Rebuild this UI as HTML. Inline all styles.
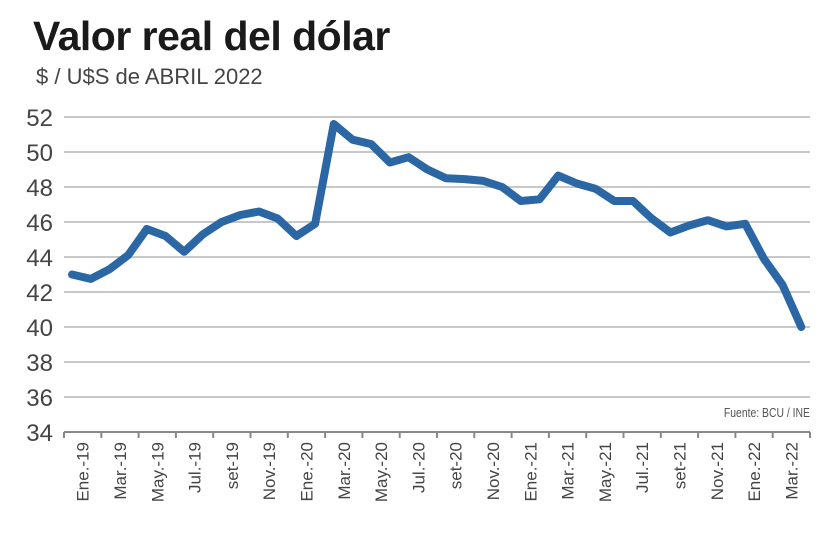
<!DOCTYPE html>
<html><head><meta charset="utf-8"><style>
body{margin:0;background:#fff;width:840px;height:546px;overflow:hidden}
</style></head><body>
<svg width="840" height="546" xmlns="http://www.w3.org/2000/svg" font-family="Liberation Sans, sans-serif">
<text x="33" y="50" font-size="41" font-weight="bold" fill="#1a1a1a" letter-spacing="-0.5">Valor real del dólar</text>
<text x="36" y="84" font-size="22" fill="#444">$ / U$S de ABRIL 2022</text>
<g stroke="#c8c8c8" stroke-width="2">
<line x1="64" x2="810" y1="117" y2="117"/><line x1="64" x2="810" y1="152" y2="152"/>
<line x1="64" x2="810" y1="187" y2="187"/><line x1="64" x2="810" y1="222" y2="222"/>
<line x1="64" x2="810" y1="257" y2="257"/><line x1="64" x2="810" y1="292" y2="292"/>
<line x1="64" x2="810" y1="327" y2="327"/><line x1="64" x2="810" y1="362" y2="362"/>
<line x1="64" x2="810" y1="397" y2="397"/>
</g>
<line x1="64" x2="810" y1="432" y2="432" stroke="#888" stroke-width="2"/>
<g fill="#444" font-size="24" text-anchor="end">
<text x="53" y="126">52</text><text x="53" y="161">50</text><text x="53" y="196">48</text>
<text x="53" y="231">46</text><text x="53" y="266">44</text><text x="53" y="301">42</text>
<text x="53" y="336">40</text><text x="53" y="371">38</text><text x="53" y="406">36</text>
<text x="53" y="441">34</text>
</g>
<text x="810" y="417" font-size="13" fill="#555" text-anchor="end" transform="translate(810 0) scale(0.8 1) translate(-810 0)">Fuente: BCU / INE</text>
<g id="ticks" stroke="#888" stroke-width="2"></g>
<g id="xl" fill="#444" font-size="17" text-anchor="end"></g>
<polyline id="ln" fill="none" stroke="#2b67a4" stroke-width="8" stroke-linejoin="round" stroke-linecap="round"/>
</svg>
<script>
var v=[43.0,42.75,43.3,44.1,45.6,45.2,44.3,45.3,46.0,46.4,46.6,46.2,45.2,45.9,51.6,50.7,50.45,49.4,49.7,49.0,48.5,48.45,48.35,48.0,47.2,47.3,48.65,48.2,47.9,47.2,47.2,46.2,45.4,45.8,46.1,45.75,45.9,43.9,42.4,40.0];
var p=v.map(function(d,i){return (72+i*18.7).toFixed(1)+','+(117+(52-d)*17.5).toFixed(1)}).join(' ');
document.getElementById('ln').setAttribute('points',p);
var ns='http://www.w3.org/2000/svg',t=document.getElementById('ticks'),xl=document.getElementById('xl');
for(var k=0;k<=20;k++){var x=64+k*37.3;var l=document.createElementNS(ns,'line');l.setAttribute('x1',x);l.setAttribute('x2',x);l.setAttribute('y1',432);l.setAttribute('y2',438);t.appendChild(l);}
var L=['Ene.-19','Mar.-19','May.-19','Jul.-19','set-19','Nov.-19','Ene.-20','Mar.-20','May.-20','Jul.-20','set-20','Nov.-20','Ene.-21','Mar.-21','May.-21','Jul.-21','set-21','Nov.-21','Ene.-22','Mar.-22'];
L.forEach(function(s,i){var x=64+18.65+i*37.3+6;var e=document.createElementNS(ns,'text');e.setAttribute('transform','translate('+x+',442) rotate(-90)');e.textContent=s;xl.appendChild(e);});
</script>
</body></html>
